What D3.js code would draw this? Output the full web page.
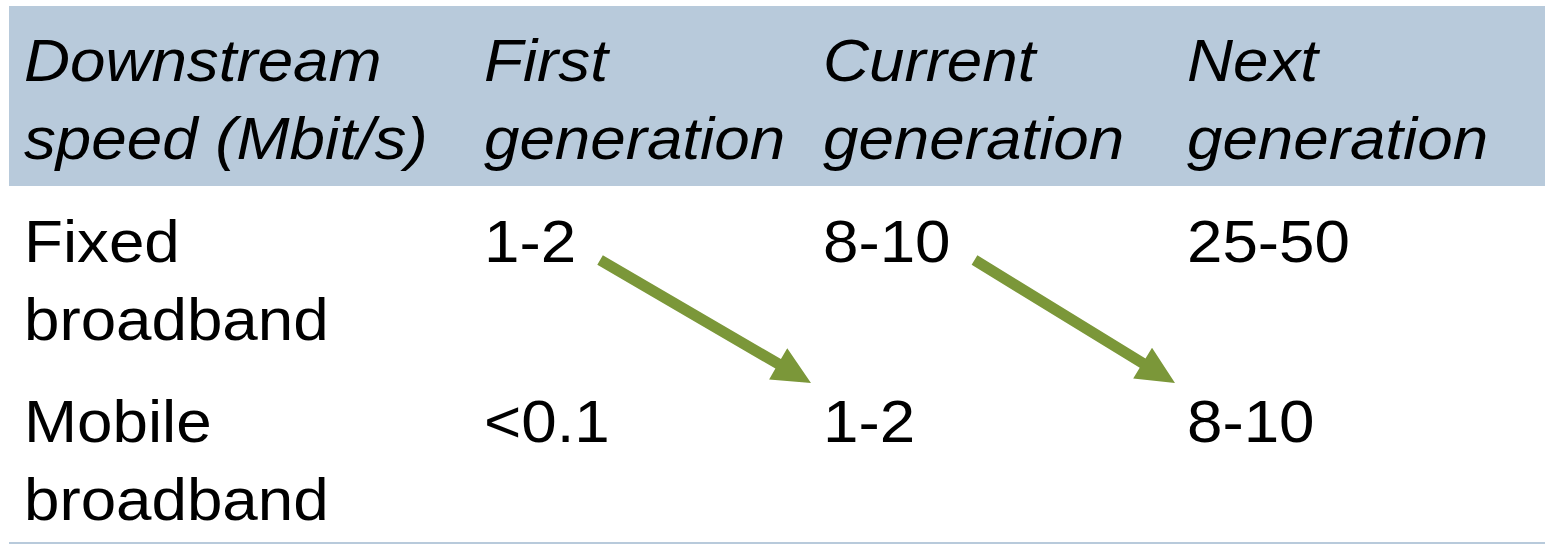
<!DOCTYPE html>
<html>
<head>
<meta charset="utf-8">
<script src="https://cdn.jsdelivr.net/npm/d3@7"></script>
<style>
  html, body { margin: 0; padding: 0; background: #ffffff; }
  svg { display: block; }
</style>
</head>
<body>
<svg id="chart" width="1554" height="545"></svg>
<script>
// ---- data ----
const headers = [
  ["Downstream", "speed (Mbit/s)"],
  ["First", "generation"],
  ["Current", "generation"],
  ["Next", "generation"]
];
const rowLabels = [
  ["Fixed", "broadband"],
  ["Mobile", "broadband"]
];
const fixedValues = ["1-2", "8-10", "25-50"];
const mobileValues = ["<0.1", "1-2", "8-10"];
// arrows: from [row, col] to [row, col]
const arrowLinks = [
  { from: [0, 1], to: [1, 2] },
  { from: [0, 2], to: [1, 3] }
];

// ---- layout ----
const left = 9, right = 1545;
const headerTop = 6, headerBottom = 186;
const fontSize = 59;
const stretch = 1.08;
const lineH = 78;
const headerColor = "#b8cadb";
const arrowColor = "#7b9739";
const font = "'Liberation Sans', Arial, sans-serif";

const svg = d3.select("#chart");

const colX = d3.scaleOrdinal().domain([0, 1, 2, 3]).range([24, 484, 823, 1187]);
const rowY = d3.scaleLinear().domain([0, 1]).range([262, 442]); // first-line baseline of body rows
const headerBase = 81;

svg.append("rect")
  .attr("x", left).attr("y", headerTop)
  .attr("width", right - left).attr("height", headerBottom - headerTop)
  .attr("fill", headerColor);

svg.append("line")
  .attr("x1", left).attr("x2", right)
  .attr("y1", 543).attr("y2", 543)
  .attr("stroke", headerColor).attr("stroke-width", 2);

function addText(x, y, lines, italic) {
  const g = svg.append("g").attr("transform", `translate(${x},0) scale(${stretch},1)`);
  const t = g.append("text")
    .attr("font-family", font)
    .attr("font-size", fontSize)
    .attr("font-style", italic ? "italic" : "normal")
    .attr("fill", "#000");
  lines.forEach((ln, i) => {
    t.append("tspan").attr("x", 0).attr("y", y + i * lineH).text(ln);
  });
  return t;
}

// header
headers.forEach((lines, c) => addText(colX(c), headerBase, lines, true));

// body
const rows = [
  { label: rowLabels[0], values: fixedValues },
  { label: rowLabels[1], values: mobileValues }
];
const cellEnds = {};
rows.forEach((r, ri) => {
  addText(colX(0), rowY(ri), r.label, false);
  r.values.forEach((v, i) => {
    const t = addText(colX(i + 1), rowY(ri), [v], false);
    cellEnds[ri + "," + (i + 1)] = colX(i + 1) + t.node().getComputedTextLength() * stretch;
  });
});

// arrows
const shaftW = 11, headLen = 38, headW = 36;
arrowLinks.forEach(a => {
  const x0 = cellEnds[a.from.join(",")] + 24, y0 = rowY(a.from[0]) - 2;
  const x1 = colX(a.to[1]) - 12, y1 = rowY(a.to[0]) - 59;
  const dx = x1 - x0, dy = y1 - y0, L = Math.hypot(dx, dy);
  const ux = dx / L, uy = dy / L, px = -uy, py = ux;
  const bx = x1 - ux * headLen, by = y1 - uy * headLen;
  const pts = [
    [x0 + px * shaftW / 2, y0 + py * shaftW / 2],
    [bx + px * shaftW / 2, by + py * shaftW / 2],
    [bx + px * headW / 2, by + py * headW / 2],
    [x1, y1],
    [bx - px * headW / 2, by - py * headW / 2],
    [bx - px * shaftW / 2, by - py * shaftW / 2],
    [x0 - px * shaftW / 2, y0 - py * shaftW / 2]
  ];
  svg.append("path")
    .attr("d", d3.line()(pts) + "Z")
    .attr("fill", arrowColor);
});
</script>
</body>
</html>
